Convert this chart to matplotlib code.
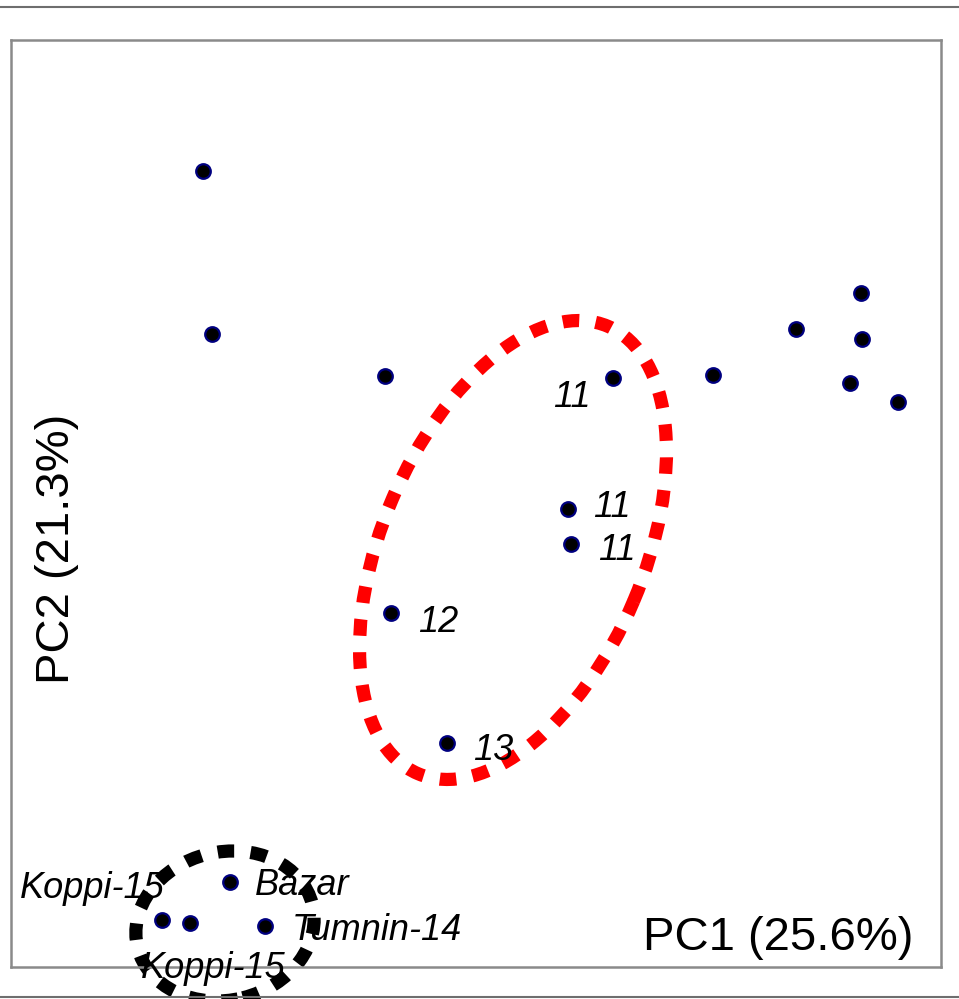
import matplotlib
matplotlib.use("Agg")
import matplotlib.pyplot as plt
from matplotlib.patches import Ellipse
from matplotlib.lines import Line2D
from matplotlib import font_manager

# ---- data (PC scores) ----
pc1 = [-2.73, -2.64, -0.91, 1.37, 2.37, 3.20, 3.85, 3.86, 3.74, 4.22,
       0.92, 0.95, -0.85, -0.29, -2.46, -3.14, -2.86, -2.11]
pc2 = [3.33, 1.70, 1.28, 1.26, 1.29, 1.75, 2.11, 1.65, 1.21, 1.02,
       -0.05, -0.40, -1.09, -2.39, -3.78, -4.16, -4.19, -4.22]
labels = ["", "", "", "11", "", "", "", "", "", "",
          "11", "11", "12", "13", "Bazar", "Koppi-15", "Koppi-15", "Tumnin-14"]

# ellipses: center x, center y, width, height, angle
red_ellipse = (0.37, -0.46, 4.86, 2.62, 67.0)
black_ellipse = (-2.51, -4.22, 1.80, 1.48, 14.0)

xlabel = "PC1 (25.6%)"
ylabel = "PC2 (21.3%)"
xlim = (-4.65, 4.65)
ylim = (-4.63, 4.64)

# ---- label placement (offset pixels, alignment) ----
label_style = {
    3: (-22, -29, "right"),
    10: (25, -8, "left"),
    11: (27, -16, "left"),
    12: (27, -19, "left"),
    13: (26, -17, "left"),
    14: (25, -13, "left"),
    15: (3, 22, "right"),
    16: (23, -55, "center"),
    17: (27, -14, "left"),
}

names = {f.name for f in font_manager.fontManager.ttflist}
if "Liberation Sans Narrow" in names:
    lab_family = ["Liberation Sans Narrow", "DejaVu Sans"]
    lab_size = 32
else:
    lab_family = ["Liberation Sans", "DejaVu Sans"]
    lab_size = 26

W, H = 959, 999
fig = plt.figure(figsize=(W / 100, H / 100), dpi=100)
ax = fig.add_axes([11 / W, (H - 967) / H, 930 / W, 927 / H])
ax.set_xlim(*xlim)
ax.set_ylim(*ylim)
ax.set_xticks([])
ax.set_yticks([])
for s in ax.spines.values():
    s.set_color("#8a8a8a")
    s.set_linewidth(1.8)

for e, col in ((red_ellipse, "#ff0000"), (black_ellipse, "#000000")):
    cx, cy, w, h, ang = e
    ax.add_patch(Ellipse((cx, cy), w, h, angle=ang, fill=False, edgecolor=col,
                         linewidth=9.5, linestyle=(0, (1.25, 1.25)),
                         clip_on=False, zorder=2))

ax.plot(pc1, pc2, linestyle="none", marker="o", markersize=10.5,
        markerfacecolor="black", markeredgecolor="#000080",
        markeredgewidth=1.6, zorder=3, clip_on=False)

for i, lab in enumerate(labels):
    if not lab:
        continue
    dx, dy, ha = label_style[i]
    ax.annotate(lab, (pc1[i], pc2[i]), xytext=(dx, dy), textcoords="offset pixels",
                ha=ha, va="baseline", fontsize=lab_size, style="italic",
                family=lab_family, color="black", zorder=4, annotation_clip=False)

ax.text(0.970, 0.018, xlabel, transform=ax.transAxes, ha="right", va="baseline",
        fontsize=34, family=["Liberation Sans", "DejaVu Sans"], color="black")
ax.text(0.0495, 0.451, ylabel, transform=ax.transAxes, ha="center", va="center",
        rotation=90, fontsize=34, family=["Liberation Sans", "DejaVu Sans"],
        color="black")

fig.add_artist(Line2D([0, 1], [(H - 6.5) / H] * 2, transform=fig.transFigure,
                      color="#6e6e6e", linewidth=1.5))
fig.add_artist(Line2D([0, 1], [(H - 997) / H] * 2, transform=fig.transFigure,
                      color="#6e6e6e", linewidth=1.5))

fig.savefig("out.png", dpi=100)
